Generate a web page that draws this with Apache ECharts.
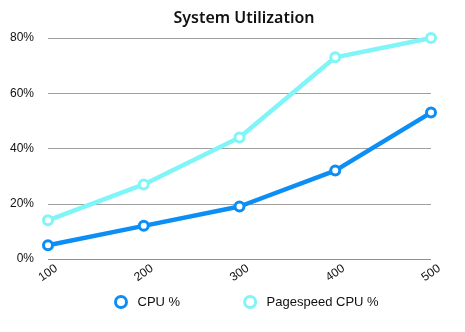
<!DOCTYPE html>
<html><head><meta charset="utf-8">
<script src="https://cdn.jsdelivr.net/npm/echarts@6/dist/echarts.min.js"></script>
<style>html,body{margin:0;padding:0;background:#fff}#c{width:465px;height:332px}</style>
</head><body><div id="c"></div>
<script>
const categories = ['100', '200', '300', '400', '500'];
const cpu = [5, 12, 19, 32, 53];
const pagespeed = [14, 27, 44, 73, 80];
const yTicks = [0, 20, 40, 60, 80];

const chart = echarts.init(document.getElementById('c'));
chart.setOption({
  animation: false,
  title: {
    text: 'System Utilization', left: 239, top: 5, textAlign: 'center',
    textStyle: { fontFamily: 'Noto Sans', fontSize: 16, fontWeight: 600, color: '#111' }
  },
  grid: { left: 48, right: 34, top: 38, bottom: 73 },
  legend: {
    bottom: 18, left: 109, itemGap: 63, itemWidth: 11, itemHeight: 11,
    icon: 'circle',
    textStyle: { fontFamily: 'Liberation Sans', fontSize: 13, color: '#111', padding: [0, 0, 0, 6] },
    data: [
      { name: 'CPU %', itemStyle: { color: '#fff', borderColor: '#0d8ef5', borderWidth: 3 } },
      { name: 'Pagespeed CPU %', itemStyle: { color: '#fff', borderColor: '#80f5f8', borderWidth: 3 } }
    ]
  },
  xAxis: {
    type: 'category', data: categories, boundaryGap: false,
    axisLine: { show: false }, axisTick: { show: false },
    axisLabel: { rotate: 35, margin: 14, align: 'center', fontFamily: 'Liberation Sans', fontSize: 12, color: '#111' }
  },
  yAxis: {
    type: 'value', min: 0, max: 80, interval: 20,
    axisLine: { show: false }, axisTick: { show: false },
    axisLabel: { margin: 14, fontFamily: 'Liberation Sans', fontSize: 12, color: '#111',
      formatter: v => yTicks.includes(v) ? v + '%' : '' },
    splitLine: { lineStyle: { color: ['#e86a6a', '#a0a0a0', '#a0a0a0', '#a0a0a0', '#a0a0a0'], width: 1 } }
  },
  series: [
    {
      name: 'CPU %', type: 'line', data: cpu, symbol: 'circle', symbolSize: 9,
      lineStyle: { width: 4.5, color: '#0d8ef5' },
      itemStyle: { color: '#fff', borderColor: '#0d8ef5', borderWidth: 3 }
    },
    {
      name: 'Pagespeed CPU %', type: 'line', data: pagespeed, symbol: 'circle', symbolSize: 9,
      lineStyle: { width: 4.5, color: '#80f5f8' },
      itemStyle: { color: '#fff', borderColor: '#80f5f8', borderWidth: 3 }
    }
  ]
});
</script></body></html>
